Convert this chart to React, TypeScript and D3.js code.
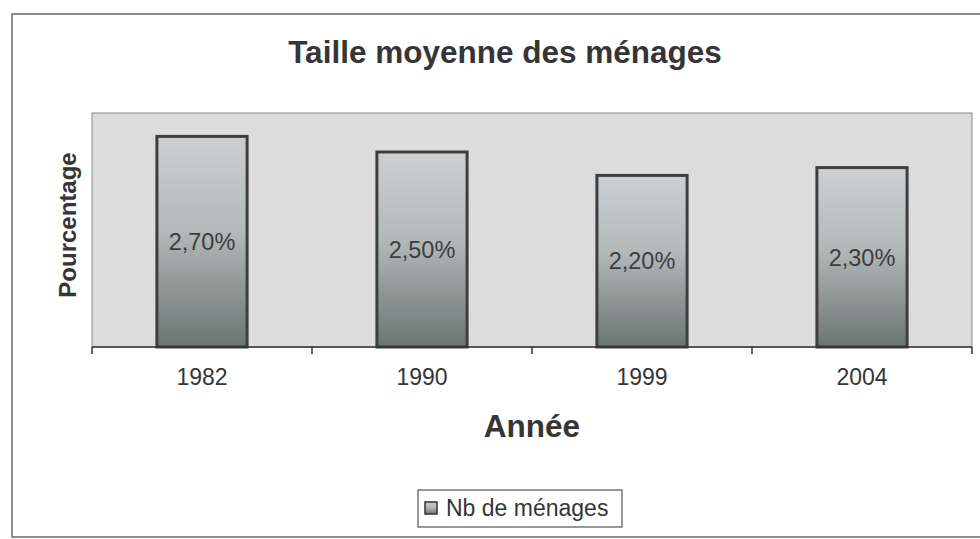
import React, { useEffect, useRef } from "react";
import * as d3 from "d3";

const years = ["1982", "1990", "1999", "2004"];
const values = [2.7, 2.5, 2.2, 2.3];
const valueLabels = ["2,70%", "2,50%", "2,20%", "2,30%"];
const title = "Taille moyenne des ménages";
const xTitle = "Année";
const yTitle = "Pourcentage";
const seriesName = "Nb de ménages";

const FONT = "'Liberation Sans', Arial, Helvetica, sans-serif";

const App = () => {
  const ref = useRef<SVGSVGElement>(null);

  useEffect(() => {
    document.body.style.margin = "0";
    const svg = d3.select(ref.current);
    svg.selectAll("*").remove();

    const width = 980;
    const height = 539;
    const plot = { left: 92, right: 972, top: 113, bottom: 347 };
    const ink = "#353535";

    svg.attr("width", width).attr("height", height).style("display", "block");

    const defs = svg.append("defs");
    const grad = defs.append("linearGradient")
      .attr("id", "barGrad")
      .attr("x1", 0).attr("y1", 0).attr("x2", 0).attr("y2", 1);
    grad.append("stop").attr("offset", "0%").attr("stop-color", "#cdd0d3");
    grad.append("stop").attr("offset", "45%").attr("stop-color", "#b3b8b8");
    grad.append("stop").attr("offset", "100%").attr("stop-color", "#6a7572");

    // cadre extérieur
    svg.append("rect")
      .attr("x", 12).attr("y", 14)
      .attr("width", width).attr("height", 523)
      .attr("fill", "#fff")
      .attr("stroke", "#6a6a6a")
      .attr("stroke-width", 1.5);

    const x = d3.scaleBand<string>()
      .domain(years)
      .range([plot.left, plot.right])
      .paddingInner(0.59)
      .paddingOuter(0.295);

    const y = d3.scaleLinear()
      .domain([0, 3])
      .range([plot.bottom, plot.top]);

    // zone de tracé
    svg.append("rect")
      .attr("x", plot.left).attr("y", plot.top)
      .attr("width", plot.right - plot.left)
      .attr("height", plot.bottom - plot.top)
      .attr("fill", "#dcdcdc")
      .attr("stroke", "#8a8a8a")
      .attr("stroke-width", 1);

    // barres
    svg.selectAll("rect.bar")
      .data(values)
      .enter()
      .append("rect")
      .attr("class", "bar")
      .attr("x", (d, i) => x(years[i])!)
      .attr("y", d => y(d))
      .attr("width", x.bandwidth())
      .attr("height", d => y(0) - y(d))
      .attr("fill", "url(#barGrad)")
      .attr("stroke", "#3e3e3e")
      .attr("stroke-width", 3);

    svg.selectAll("text.val")
      .data(values)
      .enter()
      .append("text")
      .attr("class", "val")
      .attr("x", (d, i) => x(years[i])! + x.bandwidth() / 2)
      .attr("y", d => (y(d) + y(0)) / 2)
      .attr("dy", "0.35em")
      .attr("text-anchor", "middle")
      .attr("font-family", FONT)
      .attr("font-size", 23.5)
      .attr("fill", "#3a3f3e")
      .text((d, i) => valueLabels[i]);

    // axe horizontal
    svg.append("line")
      .attr("x1", plot.left).attr("x2", plot.right)
      .attr("y1", plot.bottom).attr("y2", plot.bottom)
      .attr("stroke", ink).attr("stroke-width", 1.5);

    d3.range(years.length + 1).forEach(i => {
      const tx = plot.left + i * x.step();
      svg.append("line")
        .attr("x1", tx).attr("x2", tx)
        .attr("y1", plot.bottom).attr("y2", plot.bottom + 7)
        .attr("stroke", ink).attr("stroke-width", 1.5);
    });

    svg.selectAll("text.tick")
      .data(years)
      .enter()
      .append("text")
      .attr("class", "tick")
      .attr("x", d => x(d)! + x.bandwidth() / 2)
      .attr("y", 385)
      .attr("text-anchor", "middle")
      .attr("font-family", FONT)
      .attr("font-size", 23)
      .attr("fill", ink)
      .text(d => d);

    // titres
    svg.append("text")
      .attr("x", 505).attr("y", 63)
      .attr("text-anchor", "middle")
      .attr("font-family", FONT)
      .attr("font-weight", "bold")
      .attr("font-size", 31.5)
      .attr("fill", ink)
      .text(title);

    svg.append("text")
      .attr("x", (plot.left + plot.right) / 2).attr("y", 437)
      .attr("text-anchor", "middle")
      .attr("font-family", FONT)
      .attr("font-weight", "bold")
      .attr("font-size", 31.5)
      .attr("fill", ink)
      .text(xTitle);

    svg.append("text")
      .attr("transform", `translate(76,${(plot.top + plot.bottom) / 2 - 5}) rotate(-90)`)
      .attr("text-anchor", "middle")
      .attr("font-family", FONT)
      .attr("font-weight", "bold")
      .attr("font-size", 24)
      .attr("fill", ink)
      .text(yTitle);

    // légende
    const lg = svg.append("g").attr("transform", "translate(418,490)");
    lg.append("rect")
      .attr("width", 204).attr("height", 37)
      .attr("fill", "#fff")
      .attr("stroke", "#555").attr("stroke-width", 1.2);
    lg.append("rect")
      .attr("x", 7).attr("y", 12)
      .attr("width", 12).attr("height", 12)
      .attr("fill", "url(#barGrad)")
      .attr("stroke", "#333").attr("stroke-width", 1.5);
    lg.append("text")
      .attr("x", 28).attr("y", 26)
      .attr("font-family", FONT)
      .attr("font-size", 23)
      .attr("fill", ink)
      .text(seriesName);
  }, []);

  return <svg ref={ref}></svg>;
};

export default App;
